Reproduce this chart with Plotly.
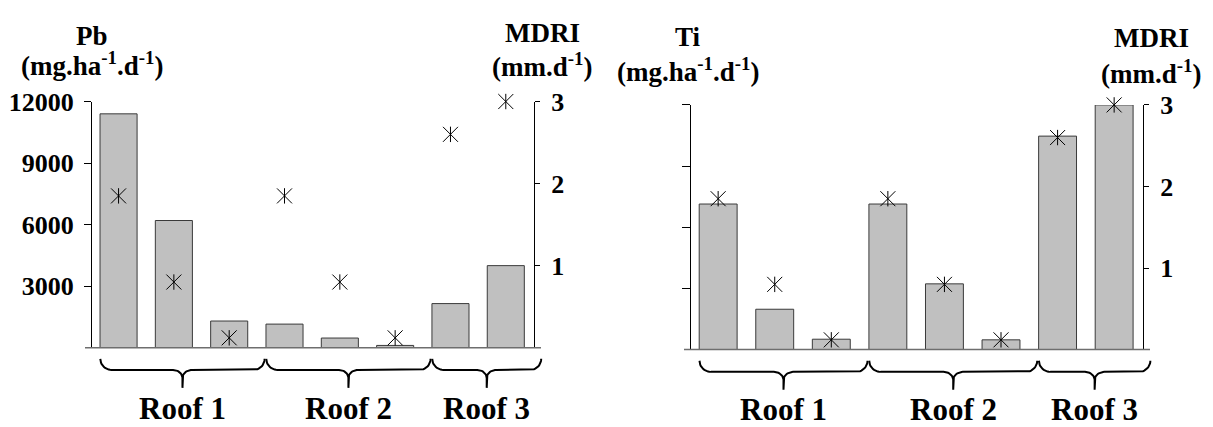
import numpy as np
import plotly.graph_objects as go

FIG_W, FIG_H = 1213, 427
FONT = "Liberation Serif"

# ---- data -------------------------------------------------------------
POSITIONS = [0, 1, 2, 3, 4, 5, 6, 7]          # one bar per sampling point
ROOFS = ["Roof 1", "Roof 2", "Roof 3"]
ROOF_MEMBERS = [[0, 1, 2], [3, 4, 5], [6, 7]]

PB = [11400, 6200, 1300, 1150, 470, 110, 2150, 4000]     # mg.ha-1.d-1
TI = [2380, 660, 170, 2380, 1075, 160, 3490, 4000]       # mg.ha-1.d-1
MDRI = [1.85, 0.8, 0.12, 1.85, 0.8, 0.12, 2.6, 3.0]      # mm.d-1

PB_TICKS = [3000, 6000, 9000, 12000]
TI_TICKS = [1000, 2000, 3000, 4000]
MDRI_TICKS = [1, 2, 3]

# ---- geometry ---------------------------------------------------------
def px_x(p):
    return p / FIG_W


def px_y(p):
    return 1 - p / FIG_H


X_RANGE = [-0.48, 7.51]
PANELS = [
    dict(dom_x=[px_x(92), px_x(534)], base=345, top=90.5,
         xa="x", ya="y", ya2="y2", bx="x3", by="y5",
         values=PB, vmax=12000, ticks=PB_TICKS, show_left_labels=True,
         title="Pb", title_dx=0, title_y=(23, 51.5), mdri_y=(19.5, 52.5),
         left_tick=7, label_depth=63),
    dict(dom_x=[px_x(691), px_x(1143)], base=347, top=94,
         xa="x2", ya="y3", ya2="y4", bx="x4", by="y6",
         values=TI, vmax=4000, ticks=TI_TICKS, show_left_labels=False,
         title="Ti", title_dx=-3, title_y=(24, 57.5), mdri_y=(25, 60),
         left_tick=8, label_depth=62),
]

BAR_FILL = "#c0c0c0"
BAR_EDGE = "#3a3a3a"
BASE_COLOR = "#6e6e6e"
TICK_FONT = dict(family=FONT, size=26, weight="bold", color="black")
TITLE_FONT = dict(family=FONT, size=27, weight="bold", color="black")
ROOF_FONT = dict(family=FONT, size=31, weight="bold", color="black")

fig = go.Figure()
layout = dict(
    width=FIG_W, height=FIG_H, autosize=False,
    margin=dict(l=0, r=0, t=0, b=0),
    paper_bgcolor="white", plot_bgcolor="rgba(0,0,0,0)",
    showlegend=False, font=dict(family=FONT, color="black"),
)
shapes = []
annotations = []


def axis_key(ref):
    return ref[0] + "axis" + ref[1:]


def brace(a, b, end=11.5, mid=23.0, tip=41.5, rx_end=0.2, rx_mid=0.17, ry=8.5, n=14):
    """Points of a horizontal curly brace opening upward, tip pointing down."""
    c = (a + b) / 2
    t = np.linspace(0, np.pi / 2, n)
    xs, ys = [], []
    xs += list(a + rx_end - rx_end * np.cos(t)); ys += list(end + (mid - end) * np.sin(t))
    xs += list(c - rx_mid + rx_mid * np.sin(t)); ys += list(mid + ry * (1 - np.cos(t)))
    xs += [c, c]; ys += [tip, mid + ry]
    tr = t[::-1]
    xs += list(c + rx_mid - rx_mid * np.sin(tr)); ys += list(mid + ry * (1 - np.cos(tr)))
    xs += list(b - rx_end + rx_end * np.cos(tr)); ys += list(end + (mid - end) * np.sin(tr))
    return xs, ys


for P in PANELS:
    d0, d1 = P["dom_x"]
    dom_y = [px_y(P["base"]), px_y(P["top"])]
    span = X_RANGE[1] - X_RANGE[0]
    per_unit = (d1 - d0) / span

    # bars
    fig.add_trace(go.Bar(
        x=POSITIONS, y=P["values"], xaxis=P["xa"], yaxis=P["ya"], width=0.67,
        marker=dict(color=BAR_FILL, line=dict(color=BAR_EDGE, width=1)),
    ))
    # MDRI stars: a thin x crossed by a vertical stroke
    for sym, size in (("x-thin", 15), ("line-ns", 11)):
        fig.add_trace(go.Scatter(
            x=POSITIONS, y=MDRI, xaxis=P["xa"], yaxis=P["ya2"], mode="markers",
            cliponaxis=False,
            marker=dict(symbol=sym, size=size, color="black",
                        line=dict(color="black", width=1)),
        ))

    layout[axis_key(P["xa"])] = dict(domain=[d0, d1], range=X_RANGE, visible=False,
                                     anchor=P["ya"])
    layout[axis_key(P["ya"])] = dict(
        domain=dom_y, range=[0, P["vmax"]], anchor=P["xa"], side="left",
        tickvals=P["ticks"], tickformat="d", ticks="outside", ticklen=P["left_tick"],
        tickwidth=1, tickcolor="black", showline=True, linecolor="black", linewidth=1,
        showgrid=False, zeroline=False, showticklabels=P["show_left_labels"],
        tickfont=TICK_FONT, ticklabelstandoff=5,
    )
    layout[axis_key(P["ya2"])] = dict(
        range=[0, 3], overlaying=P["ya"], anchor=P["xa"], side="right",
        tickvals=MDRI_TICKS, tickformat="d", ticks="outside", ticklen=5, tickwidth=1,
        tickcolor="black", showline=True, linecolor="black", linewidth=1,
        showgrid=False, zeroline=False, tickfont=TICK_FONT, ticklabelstandoff=6,
    )

    # baseline running a little past both vertical axes
    pad = px_x(7)
    shapes.append(dict(type="line", xref="paper", yref="paper",
                       x0=d0 - pad, x1=d1 + pad, y0=dom_y[0], y1=dom_y[0],
                       line=dict(color=BASE_COLOR, width=1.5)))

    # helper subplot under the bars for the roof braces (y = depth below baseline, px)
    ext = 1.0
    depth = FIG_H - P["base"]
    layout[axis_key(P["bx"])] = dict(domain=[d0 - ext * per_unit, d1 + ext * per_unit],
                                     range=[X_RANGE[0] - ext, X_RANGE[1] + ext],
                                     visible=False, anchor=P["by"])
    layout[axis_key(P["by"])] = dict(domain=[0, dom_y[0]], range=[depth, 0],
                                     visible=False, anchor=P["bx"])
    for roof, members in zip(ROOFS, ROOF_MEMBERS):
        a = min(members) - 0.33
        b = max(members) + 0.64
        bx, by = brace(a, b)
        fig.add_trace(go.Scatter(x=bx, y=by, xaxis=P["bx"], yaxis=P["by"], mode="lines",
                                 line=dict(color="black", width=2), hoverinfo="skip"))
        annotations.append(dict(
            text=roof, xref=P["bx"], yref=P["by"], x=(a + b) / 2, y=P["label_depth"],
            showarrow=False, xanchor="center", yanchor="middle", font=ROOF_FONT,
        ))

    # axis titles
    lx = d0 + px_x(P["title_dx"])
    rx = d1 + px_x(8.5)
    for text, x, y in (
        (P["title"], lx, P["title_y"][0]),
        ("(mg.ha<sup>-1</sup>.d<sup>-1</sup>)", lx, P["title_y"][1]),
        ("MDRI", rx, P["mdri_y"][0]),
        ("(mm.d<sup>-1</sup>)", rx, P["mdri_y"][1]),
    ):
        annotations.append(dict(text=text, x=x, y=px_y(y), xref="paper", yref="paper",
                                showarrow=False, xanchor="center", yanchor="middle",
                                font=TITLE_FONT))

layout["shapes"] = shapes
layout["annotations"] = annotations
fig.update_layout(**layout)

fig.write_html("out.html")
